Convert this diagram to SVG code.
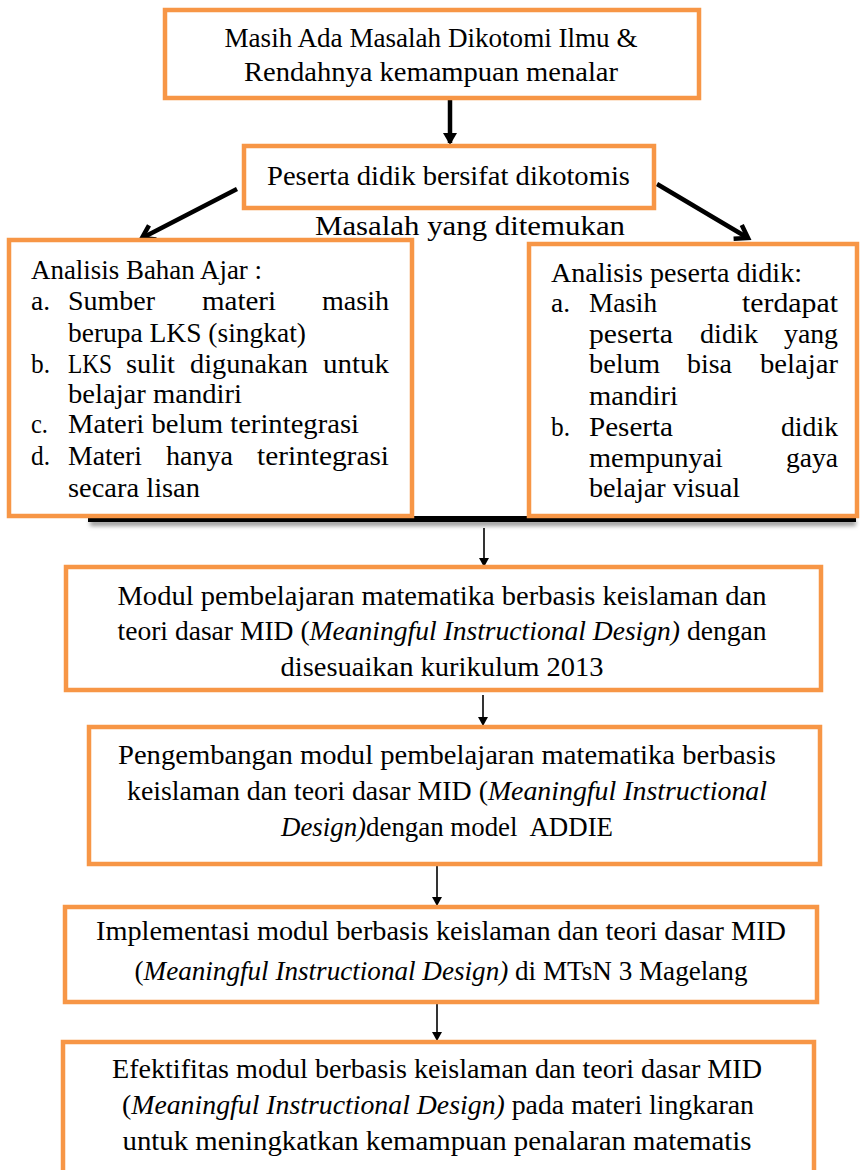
<svg xmlns="http://www.w3.org/2000/svg" width="860" height="1170" viewBox="0 0 860 1170">
<defs>
<style>
.box{fill:#fff;stroke:#F79646;stroke-width:4.5}
.t{font-family:"Liberation Serif","Times New Roman",serif;font-size:27px;fill:#000}
.c{text-anchor:middle}
.i{font-style:italic}
.thick{stroke:#000;stroke-width:4.5;fill:none}
.thin{stroke:#000;stroke-width:1.6;fill:none}
</style>
<marker id="ah" markerWidth="10" markerHeight="10" refX="8" refY="5" orient="auto" markerUnits="userSpaceOnUse">
<path d="M0,0 L9,5 L0,10 Z" fill="#000"/>
</marker>
<marker id="ahs" markerWidth="12" markerHeight="14" refX="10" refY="7" orient="auto" markerUnits="userSpaceOnUse">
<path d="M0,0 L12,7 L0,14 Z" fill="#000"/>
</marker>
<marker id="ahv" markerWidth="20" markerHeight="20" refX="14" refY="10" orient="auto" markerUnits="userSpaceOnUse">
<path d="M2,2 L14,10 L2,18" fill="none" stroke="#000" stroke-width="4.5"/>
</marker>
<filter id="sh" x="-5%" y="-100%" width="110%" height="400%">
<feGaussianBlur stdDeviation="2"/>
</filter>
</defs>

<g id="shadow-bar">
<rect x="90" y="520" width="766" height="6" fill="#999" filter="url(#sh)"/>
<rect x="88" y="516" width="768" height="6" fill="#000"/>
</g>

<g id="connectors">
<line class="thick" x1="450" y1="100" x2="450" y2="143" marker-end="url(#ahs)"/>
<line class="thick" x1="237" y1="189" x2="142" y2="238" marker-end="url(#ahv)"/>
<line class="thick" x1="657" y1="184" x2="748" y2="238" marker-end="url(#ahv)"/>
<line class="thin" x1="484" y1="528" x2="484" y2="566" marker-end="url(#ah)"/>
<line class="thin" x1="483" y1="695" x2="483" y2="725" marker-end="url(#ah)"/>
<line class="thin" x1="437" y1="866" x2="437" y2="905" marker-end="url(#ah)"/>
<line class="thin" x1="437" y1="1004" x2="437" y2="1040" marker-end="url(#ah)"/>
</g>

<g id="n1">
<rect class="box" x="165" y="10" width="534" height="88"/>
<text class="t c" x="431" y="47" textLength="413" lengthAdjust="spacingAndGlyphs">Masih Ada Masalah Dikotomi Ilmu &amp;</text>
<text class="t c" x="431" y="81" textLength="374" lengthAdjust="spacingAndGlyphs">Rendahnya kemampuan menalar</text>
</g>

<g id="n2">
<rect class="box" x="244" y="146" width="410" height="62"/>
<text class="t c" x="448.5" y="185" textLength="363" lengthAdjust="spacingAndGlyphs">Peserta didik bersifat dikotomis</text>
</g>

<g id="label">
<text class="t c" x="470" y="235" textLength="310" lengthAdjust="spacingAndGlyphs">Masalah yang ditemukan</text>
</g>

<g id="n3">
<rect class="box" x="9" y="240" width="403" height="276"/>
<text class="t" x="31" y="279" textLength="231" lengthAdjust="spacingAndGlyphs">Analisis Bahan Ajar :</text>
<text class="t" x="31" y="310" textLength="19" lengthAdjust="spacingAndGlyphs">a.</text>
<text class="t" x="68" y="310" textLength="87" lengthAdjust="spacingAndGlyphs">Sumber</text>
<text class="t" x="202" y="310" textLength="74" lengthAdjust="spacingAndGlyphs">materi</text>
<text class="t" x="322" y="310" textLength="67" lengthAdjust="spacingAndGlyphs">masih</text>
<text class="t" x="68" y="342" textLength="238" lengthAdjust="spacingAndGlyphs">berupa LKS (singkat)</text>
<text class="t" x="31" y="373" textLength="19" lengthAdjust="spacingAndGlyphs">b.</text>
<text class="t" x="68" y="373" textLength="44" lengthAdjust="spacingAndGlyphs">LKS</text>
<text class="t" x="126" y="373" textLength="49" lengthAdjust="spacingAndGlyphs">sulit</text>
<text class="t" x="190" y="373" textLength="118" lengthAdjust="spacingAndGlyphs">digunakan</text>
<text class="t" x="323" y="373" textLength="66" lengthAdjust="spacingAndGlyphs">untuk</text>
<text class="t" x="68" y="403" textLength="174" lengthAdjust="spacingAndGlyphs">belajar mandiri</text>
<text class="t" x="31" y="433" textLength="17" lengthAdjust="spacingAndGlyphs">c.</text>
<text class="t" x="68" y="433" textLength="291" lengthAdjust="spacingAndGlyphs">Materi belum terintegrasi</text>
<text class="t" x="31" y="465" textLength="19" lengthAdjust="spacingAndGlyphs">d.</text>
<text class="t" x="68" y="465" textLength="74" lengthAdjust="spacingAndGlyphs">Materi</text>
<text class="t" x="166" y="465" textLength="67" lengthAdjust="spacingAndGlyphs">hanya</text>
<text class="t" x="257" y="465" textLength="132" lengthAdjust="spacingAndGlyphs">terintegrasi</text>
<text class="t" x="68" y="497" textLength="132" lengthAdjust="spacingAndGlyphs">secara lisan</text>
</g>

<g id="n4">
<rect class="box" x="529" y="244" width="328" height="272"/>
<text class="t" x="551" y="282" textLength="251" lengthAdjust="spacingAndGlyphs">Analisis peserta didik:</text>
<text class="t" x="551" y="312" textLength="19" lengthAdjust="spacingAndGlyphs">a.</text>
<text class="t" x="589" y="312" textLength="68" lengthAdjust="spacingAndGlyphs">Masih</text>
<text class="t" x="742" y="312" textLength="96" lengthAdjust="spacingAndGlyphs">terdapat</text>
<text class="t" x="589" y="343" textLength="84" lengthAdjust="spacingAndGlyphs">peserta</text>
<text class="t" x="700" y="343" textLength="58" lengthAdjust="spacingAndGlyphs">didik</text>
<text class="t" x="784" y="343" textLength="54" lengthAdjust="spacingAndGlyphs">yang</text>
<text class="t" x="589" y="373" textLength="71" lengthAdjust="spacingAndGlyphs">belum</text>
<text class="t" x="687" y="373" textLength="45" lengthAdjust="spacingAndGlyphs">bisa</text>
<text class="t" x="760" y="373" textLength="78" lengthAdjust="spacingAndGlyphs">belajar</text>
<text class="t" x="589" y="405" textLength="89" lengthAdjust="spacingAndGlyphs">mandiri</text>
<text class="t" x="551" y="436" textLength="19" lengthAdjust="spacingAndGlyphs">b.</text>
<text class="t" x="589" y="436" textLength="84" lengthAdjust="spacingAndGlyphs">Peserta</text>
<text class="t" x="781" y="436" textLength="57" lengthAdjust="spacingAndGlyphs">didik</text>
<text class="t" x="589" y="467" textLength="134" lengthAdjust="spacingAndGlyphs">mempunyai</text>
<text class="t" x="786" y="467" textLength="52" lengthAdjust="spacingAndGlyphs">gaya</text>
<text class="t" x="589" y="497" textLength="151" lengthAdjust="spacingAndGlyphs">belajar visual</text>
</g>

<g id="n5">
<rect class="box" x="66" y="567" width="755" height="123"/>
<text class="t c" x="442" y="605" textLength="649" lengthAdjust="spacingAndGlyphs">Modul pembelajaran matematika berbasis keislaman dan</text>
<text class="t c" x="442" y="640" textLength="649" lengthAdjust="spacingAndGlyphs">teori dasar MID (<tspan class="i">Meaningful Instructional Design)</tspan> dengan</text>
<text class="t c" x="442" y="676" textLength="323" lengthAdjust="spacingAndGlyphs">disesuaikan kurikulum 2013</text>
</g>

<g id="n6">
<rect class="box" x="89" y="727" width="731" height="137"/>
<text class="t c" x="447" y="764" textLength="658" lengthAdjust="spacingAndGlyphs">Pengembangan modul pembelajaran matematika berbasis</text>
<text class="t c" x="447" y="800" textLength="640" lengthAdjust="spacingAndGlyphs">keislaman dan teori dasar MID (<tspan class="i">Meaningful Instructional</tspan></text>
<text class="t c" x="447" y="836" textLength="332" lengthAdjust="spacingAndGlyphs" xml:space="preserve"><tspan class="i">Design)</tspan>dengan model  ADDIE</text>
</g>

<g id="n7">
<rect class="box" x="65" y="907" width="752" height="95"/>
<text class="t c" x="441" y="940" textLength="690" lengthAdjust="spacingAndGlyphs">Implementasi modul berbasis keislaman dan teori dasar MID</text>
<text class="t c" x="441" y="980" textLength="613" lengthAdjust="spacingAndGlyphs">(<tspan class="i">Meaningful Instructional Design)</tspan> di MTsN 3 Magelang</text>
</g>

<g id="n8">
<rect class="box" x="63" y="1042" width="751" height="160"/>
<text class="t c" x="437" y="1078" textLength="650" lengthAdjust="spacingAndGlyphs">Efektifitas modul berbasis keislaman dan teori dasar MID</text>
<text class="t c" x="438" y="1114" textLength="632" lengthAdjust="spacingAndGlyphs">(<tspan class="i">Meaningful Instructional Design)</tspan> pada materi lingkaran</text>
<text class="t c" x="437" y="1150" textLength="629" lengthAdjust="spacingAndGlyphs">untuk meningkatkan kemampuan penalaran matematis</text>
</g>
</svg>
